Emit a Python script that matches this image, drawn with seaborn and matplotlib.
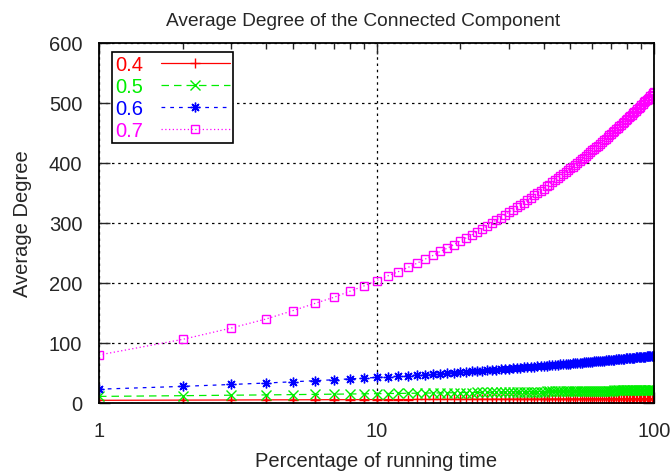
import seaborn as sns
import pandas as pd
import matplotlib.pyplot as plt
from matplotlib.ticker import LogLocator, NullFormatter, FixedLocator

# percentage of running time (x) and average degree per threshold
pct = list(range(1, 101))

deg_04 = [4.5, 4.8, 5.0, 5.2, 5.3, 5.4, 5.5, 5.5, 5.6, 5.7,
          5.7, 5.8, 5.8, 5.9, 5.9, 5.9, 6.0, 6.0, 6.0, 6.1,
          6.1, 6.1, 6.2, 6.2, 6.2, 6.2, 6.3, 6.3, 6.3, 6.3,
          6.3, 6.4, 6.4, 6.4, 6.4, 6.4, 6.5, 6.5, 6.5, 6.5,
          6.5, 6.5, 6.6, 6.6, 6.6, 6.6, 6.6, 6.6, 6.7, 6.7,
          6.7, 6.7, 6.7, 6.7, 6.7, 6.8, 6.8, 6.8, 6.8, 6.8,
          6.8, 6.8, 6.8, 6.9, 6.9, 6.9, 6.9, 6.9, 6.9, 6.9,
          6.9, 7.0, 7.0, 7.0, 7.0, 7.0, 7.0, 7.0, 7.0, 7.0,
          7.0, 7.0, 7.0, 7.1, 7.1, 7.1, 7.1, 7.1, 7.1, 7.1,
          7.1, 7.1, 7.1, 7.1, 7.1, 7.1, 7.2, 7.2, 7.2, 7.2]

deg_05 = [11.0, 12.2, 13.0, 13.5, 14.0, 14.4, 14.7, 15.0, 15.3, 15.5,
          15.8, 16.0, 16.2, 16.3, 16.5, 16.7, 16.8, 17.0, 17.1, 17.2,
          17.4, 17.5, 17.6, 17.7, 17.8, 17.9, 18.0, 18.1, 18.2, 18.3,
          18.4, 18.5, 18.6, 18.7, 18.8, 18.8, 18.9, 19.0, 19.1, 19.1,
          19.2, 19.3, 19.3, 19.4, 19.5, 19.5, 19.6, 19.7, 19.7, 19.8,
          19.8, 19.9, 20.0, 20.0, 20.1, 20.1, 20.2, 20.2, 20.3, 20.3,
          20.4, 20.4, 20.5, 20.5, 20.6, 20.6, 20.7, 20.7, 20.8, 20.8,
          20.8, 20.9, 20.9, 21.0, 21.0, 21.1, 21.1, 21.1, 21.2, 21.2,
          21.3, 21.3, 21.3, 21.4, 21.4, 21.5, 21.5, 21.5, 21.6, 21.6,
          21.6, 21.7, 21.7, 21.7, 21.8, 21.8, 21.8, 21.9, 21.9, 21.9]

deg_06 = [23.0, 27.7, 30.9, 33.3, 35.4, 37.2, 38.7, 40.2, 41.4, 42.6,
          43.7, 44.8, 45.7, 46.7, 47.5, 48.4, 49.1, 49.9, 50.6, 51.3,
          52.0, 52.7, 53.3, 53.9, 54.5, 55.1, 55.6, 56.2, 56.7, 57.2,
          57.7, 58.2, 58.7, 59.2, 59.6, 60.1, 60.5, 61.0, 61.4, 61.8,
          62.2, 62.6, 63.0, 63.4, 63.8, 64.2, 64.5, 64.9, 65.3, 65.6,
          66.0, 66.3, 66.7, 67.0, 67.3, 67.6, 68.0, 68.3, 68.6, 68.9,
          69.2, 69.5, 69.8, 70.1, 70.4, 70.7, 71.0, 71.3, 71.5, 71.8,
          72.1, 72.4, 72.6, 72.9, 73.2, 73.4, 73.7, 73.9, 74.2, 74.4,
          74.7, 74.9, 75.2, 75.4, 75.7, 75.9, 76.1, 76.4, 76.6, 76.8,
          77.0, 77.3, 77.5, 77.7, 77.9, 78.2, 78.4, 78.6, 78.8, 79.0]

deg_07 = [80, 106, 125, 140, 154, 166, 176, 186, 195, 204,
          212, 219, 226, 233, 240, 246, 253, 258, 264, 270,
          275, 280, 285, 290, 295, 300, 305, 309, 314, 318,
          322, 326, 330, 334, 338, 342, 346, 350, 354, 357,
          361, 364, 368, 371, 375, 378, 381, 385, 388, 391,
          394, 397, 400, 404, 406, 409, 412, 415, 418, 421,
          424, 427, 429, 432, 435, 438, 440, 443, 446, 448,
          451, 453, 456, 458, 461, 463, 466, 468, 471, 473,
          476, 478, 480, 483, 485, 487, 490, 492, 494, 496,
          499, 501, 503, 505, 507, 509, 512, 514, 516, 518]

labels = ["0.4", "0.5", "0.6", "0.7"]
colors = ["#ff0000", "#00ee00", "#0000ff", "#ff00ff"]
markers = ["+", "x", (8, 2, 0), "s"]
styles = ["-", (0, (6, 4)), (0, (3, 4)), (0, (1, 2))]

sns.set_style("ticks")
plt.rcParams["font.family"] = ["Liberation Sans", "DejaVu Sans"]

fig = plt.figure(figsize=(6.72, 4.77), dpi=100)
ax = fig.add_axes([99 / 672, 1 - 404 / 477, 555 / 672, 360 / 477])

for lab, ys, c, m, ls in zip(labels, [deg_04, deg_05, deg_06, deg_07], colors, markers, styles):
    df = pd.DataFrame({"pct": pct, "deg": ys})
    sns.lineplot(data=df, x="pct", y="deg", ax=ax, color=c, marker=m,
                 markersize=7 if m != "s" else 6, mec=c, mfc="none", mew=1.0,
                 linestyle=ls, linewidth=0.9, label=lab)

ax.set_xscale("log")
ax.set_xlim(1, 100)
ax.set_ylim(0, 600)
ax.xaxis.set_major_locator(FixedLocator([1, 10, 100]))
ax.set_xticklabels(["1", "10", "100"])
ax.xaxis.set_minor_locator(LogLocator(base=10, subs=range(2, 10)))
ax.xaxis.set_minor_formatter(NullFormatter())
ax.set_yticks(range(0, 601, 100))

ax.tick_params(which="both", direction="in", top=True, right=True, labelsize=14.5)
ax.tick_params(axis="y", pad=12)
ax.tick_params(axis="x", pad=13)
ax.tick_params(which="major", length=8, width=1)
ax.tick_params(which="minor", length=4, width=1)
ax.grid(True, which="major", color="black", linestyle=(0, (2, 3)), linewidth=0.9)
for s in ax.spines.values():
    s.set_linewidth(1.3)
    s.set_color("black")

ax.set_title("Average Degree of the Connected Component", fontsize=13.8, pad=13, x=0.476)
ax.set_xlabel("Percentage of running time", fontsize=14.5, labelpad=8)
ax.set_ylabel("Average Degree", fontsize=14.5, labelpad=12)

leg = ax.legend(loc="upper left", bbox_to_anchor=(0.0234, 0.975), markerfirst=False,
                labelcolor="linecolor", fancybox=False, edgecolor="black", framealpha=1,
                fontsize=14.5, handlelength=3.4, labelspacing=0.15, borderpad=0.15,
                handletextpad=0.9, numpoints=1, borderaxespad=0)
leg.get_frame().set_linewidth(1.2)

fig.savefig("out.png", dpi=100)
